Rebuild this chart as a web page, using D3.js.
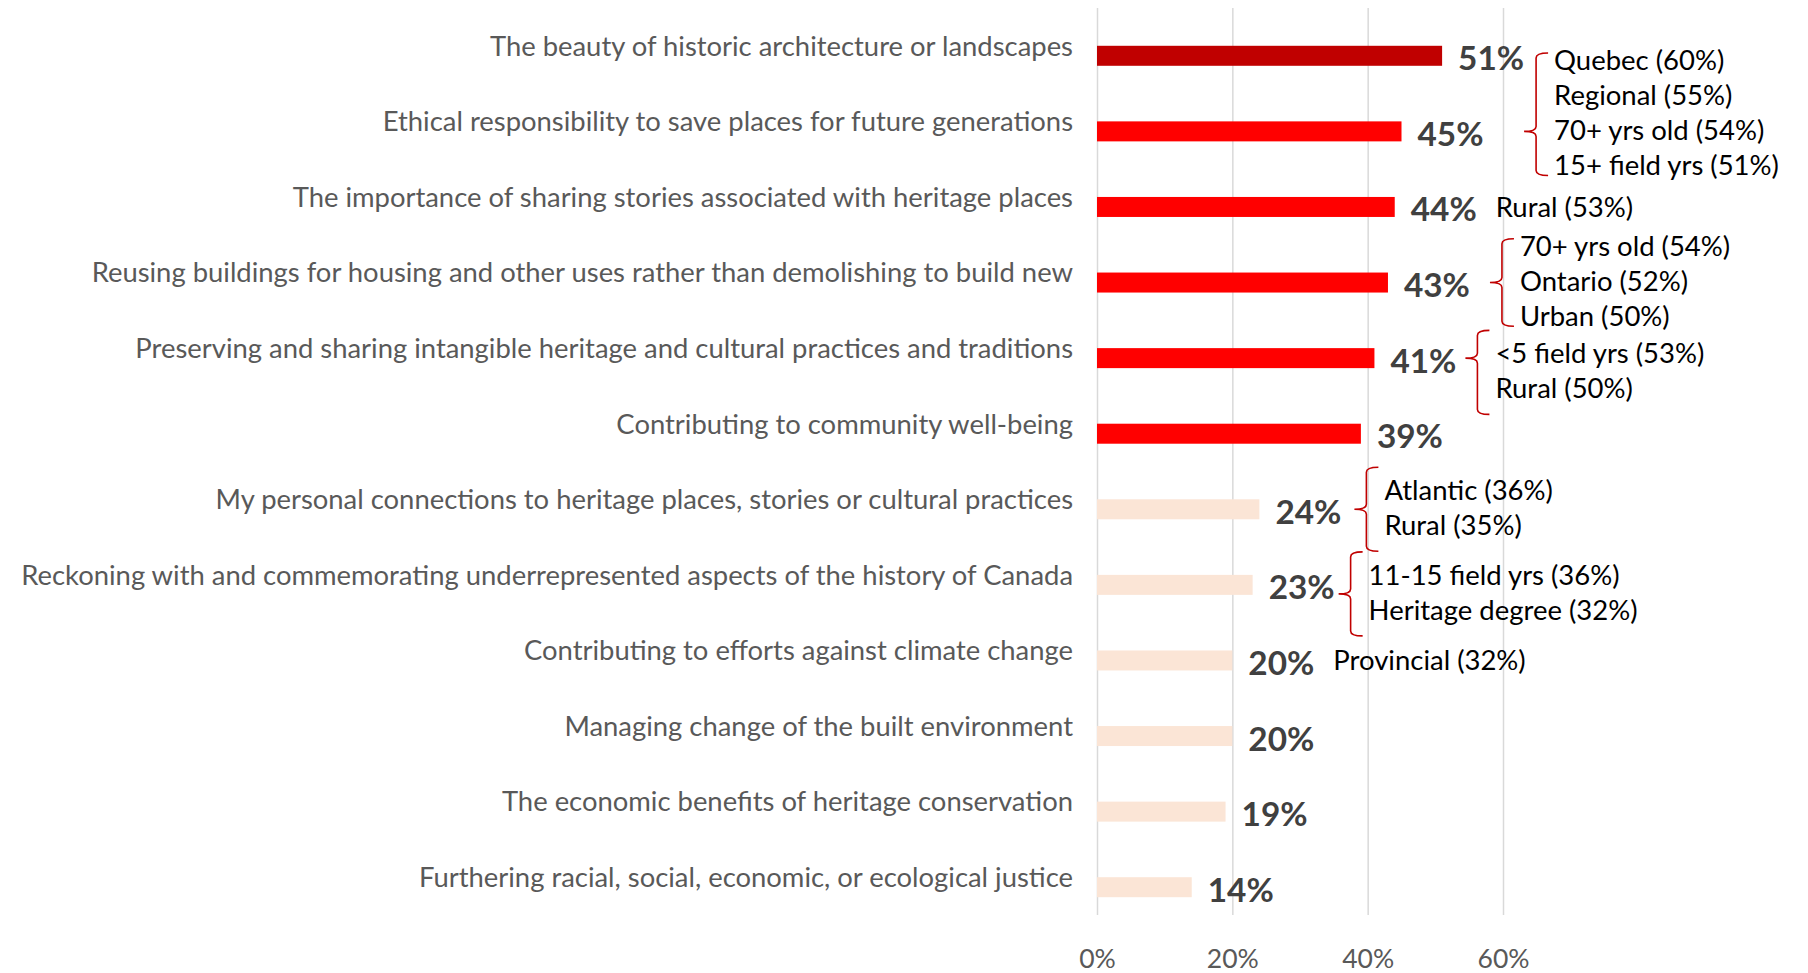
<!DOCTYPE html>
<html>
<head>
<meta charset="utf-8">
<script src="https://cdn.jsdelivr.net/npm/d3@7"></script>
<style>
	body { margin: 0; background: #fff; }
	text { font-family: Lato, "Open Sans", sans-serif; }
</style>
</head>
<body>
<div id="chart"></div>
<script>

// Data
var categories = [
	"The beauty of historic architecture or landscapes",
	"Ethical responsibility to save places for future generations",
	"The importance of sharing stories associated with heritage places",
	"Reusing buildings for housing and other uses rather than demolishing to build new",
	"Preserving and sharing intangible heritage and cultural practices and traditions",
	"Contributing to community well-being",
	"My personal connections to heritage places, stories or cultural practices",
	"Reckoning with and commemorating underrepresented aspects of the history of Canada",
	"Contributing to efforts against climate change",
	"Managing change of the built environment",
	"The economic benefits of heritage conservation",
	"Furthering racial, social, economic, or ecological justice"
];
var shares = [51, 45, 44, 43, 41, 39, 24, 23, 20, 20, 19, 14];
var tickValues = [0, 20, 40, 60];

// subgroup call-outs: row index they point at, and their lines
var noteRows = [1, 2, 3, 4, 6, 7, 8];
var noteLines = [
	["Quebec (60%)", "Regional (55%)", "70+ yrs old (54%)", "15+ field yrs (51%)"],
	["Rural (53%)"],
	["70+ yrs old (54%)", "Ontario (52%)", "Urban (50%)"],
	["<5 field yrs (53%)", "Rural (50%)"],
	["Atlantic (36%)", "Rural (35%)"],
	["11-15 field yrs (36%)", "Heritage degree (32%)"],
	["Provincial (32%)"]
];

// Layout
var width = 1808, height = 973;
var margin = { left: 1097, right: 305, top: 8, bottom: 58 };
var barH = 20;
var braceTipAt = { 1: 0.64, 4: 0.33 };          // where the tip sits along the brace
var braceGap = { 1: 0, 3: 20, 4: 9, 6: 13, 7: 4 }; // space between value label and tip
var braceDrop = { 7: 9 };                          // hand-placed shapes sit a little low
var colorDark = '#C00000', colorRed = '#FF0000', colorPale = '#FBE5D6';

var svg = d3.select("#chart")
	.append("svg")
	.attr("width", width)
	.attr("height", height);

function fitSize(str, weight, target) {
	var t = svg.append("text").attr("font-size", 100).attr("font-weight", weight).text(str);
	var w = t.node().getComputedTextLength();
	t.remove();
	return 100 * target / w;
}

var longest = categories.reduce(function(a, b) { return a.length > b.length ? a : b; });
var catSize = fitSize(longest, 400, 1052);
var valSize = fitSize("51%", 700, 66);
var tickSize = fitSize("20%", 400, 52);
var noteSize = fitSize("Heritage degree (32%)", 400, 269);
var lineH = 35;

// Scales
var x = d3.scaleLinear()
	.domain([0, 60])
	.range([margin.left, width - margin.right]);

var y = d3.scaleBand()
	.domain(categories)
	.range([margin.top, height - margin.bottom]);

// two slots per category (Excel cluster), bars sit in the second
var sub = d3.scaleBand()
	.domain(["blank", "share"])
	.range([0, y.bandwidth()])
	.paddingOuter((y.bandwidth() / barH - 2) / 2);

var color = d3.scaleThreshold()
	.domain([30, 50])
	.range([colorPale, colorRed, colorDark]);

function barMid(i) { return y(categories[i]) + sub("share") + sub.bandwidth() / 2; }

// Gridlines
var grid = svg.append("g")
	.attr("transform", "translate(0," + (height - margin.bottom) + ")")
	.call(d3.axisBottom(x).tickValues(tickValues).tickSize(-(height - margin.bottom - margin.top)).tickFormat(""));
grid.select(".domain").remove();
grid.selectAll("line").attr("stroke", "#D9D9D9").attr("stroke-width", 1.5);

// Tick labels
var axis = svg.append("g")
	.attr("transform", "translate(0," + (height - margin.bottom) + ")")
	.call(d3.axisBottom(x).tickValues(tickValues).tickSize(0).tickFormat(function(d) { return d + "%"; }));
axis.select(".domain").remove();
axis.selectAll("text")
	.attr("y", 43.5)
	.attr("dy", "0.36em")
	.attr("fill", "#595959")
	.style("font-size", tickSize + "px")
	.style("font-family", "Lato, 'Open Sans', sans-serif");

// Category labels
svg.append("g").selectAll("text")
	.data(categories)
	.enter()
	.append("text")
	.attr("x", x(0) - 24)
	.attr("y", function(d) { return y(d) + y.bandwidth() / 2; })
	.attr("dy", "0.36em")
	.attr("text-anchor", "end")
	.attr("fill", "#595959")
	.style("font-size", catSize + "px")
	.text(function(d) { return d; });

// Bars
svg.append("g").selectAll("rect")
	.data(shares)
	.enter()
	.append("rect")
	.attr("x", x(0))
	.attr("y", function(d, i) { return y(categories[i]) + sub("share"); })
	.attr("width", function(d) { return x(d) - x(0); })
	.attr("height", sub.bandwidth())
	.attr("fill", function(d) { return color(d); });

// Value labels
var labelEnd = [];
svg.append("g").selectAll("text")
	.data(shares)
	.enter()
	.append("text")
	.attr("x", function(d) { return x(d) + 16; })
	.attr("y", function(d, i) { return barMid(i) + 2.5; })
	.attr("dy", "0.36em")
	.attr("fill", "#404040")
	.attr("font-weight", 700)
	.style("font-size", valSize + "px")
	.text(function(d) { return d + "%"; })
	.each(function(d, i) { labelEnd[i] = x(d) + 16 + this.getComputedTextLength(); });

// Call-outs
var notes = svg.append("g");
noteRows.forEach(function(row, k) {
	var lines = noteLines[k];
	var tipY = barMid(row) + (braceDrop[row] || 0);

	if (lines.length === 1) {
		notes.append("text")
			.attr("x", labelEnd[row] + 19)
			.attr("y", tipY)
			.attr("dy", "0.36em")
			.attr("fill", "#000")
			.style("font-size", noteSize + "px")
			.text(lines[0]);
		return;
	}

	var bh = Math.max(lines.length - 0.5, 2.4) * lineH;
	var frac = braceTipAt[row] !== undefined ? braceTipAt[row] : 0.5;
	var top = tipY - frac * bh, bottom = top + bh;
	var mid = (top + bottom) / 2;

	// keep clear of any value label the brace runs past
	var reach = d3.max(shares.map(function(d, i) {
		var m = barMid(i);
		return (m >= top && m <= bottom) ? labelEnd[i] : -Infinity;
	}));
	var gap = braceGap[row] !== undefined ? braceGap[row] : 9;
	var tipX = reach + gap, bx = tipX + 12, hook = 12, r = 5;

	var p = d3.path();
	p.moveTo(bx + hook, top);
	p.quadraticCurveTo(bx, top, bx, top + r);
	p.lineTo(bx, tipY - r);
	p.quadraticCurveTo(bx, tipY, tipX, tipY);
	p.quadraticCurveTo(bx, tipY, bx, tipY + r);
	p.lineTo(bx, bottom - r);
	p.quadraticCurveTo(bx, bottom, bx + hook, bottom);

	notes.append("path")
		.attr("d", p.toString())
		.attr("fill", "none")
		.attr("stroke", colorDark)
		.attr("stroke-width", 1.6);

	notes.selectAll(null)
		.data(lines)
		.enter()
		.append("text")
		.attr("x", bx + 18)
		.attr("y", function(d, i) { return mid + (i - (lines.length - 1) / 2) * lineH; })
		.attr("dy", "0.3em")
		.attr("fill", "#000")
		.style("font-size", noteSize + "px")
		.text(function(d) { return d; });
});

</script>
</body>
</html>
